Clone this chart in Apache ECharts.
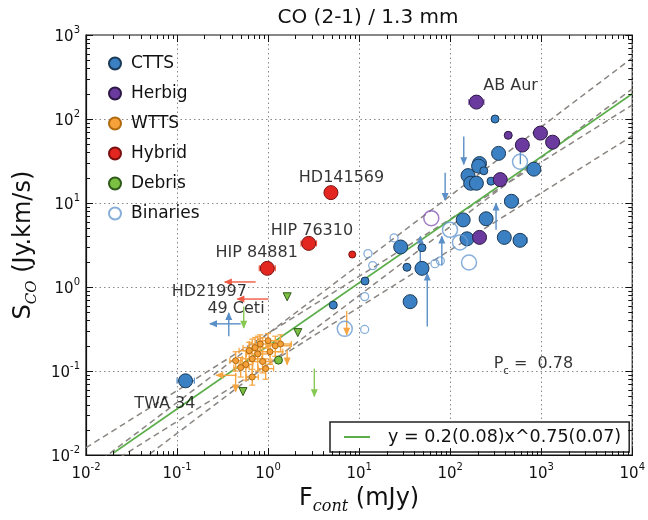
<!DOCTYPE html>
<html><head><meta charset="utf-8">
<script src="https://cdn.jsdelivr.net/npm/echarts/dist/echarts.min.js"></script>
<style>html,body{margin:0;padding:0;background:#fff}#c{width:648px;height:520px}</style>
</head><body><div id="c"></div>
<script>
// ---------- data ----------
const cttsLarge = [[0.124,0.0766],[28.6,3.0],[49,1.67],[36.3,0.67],[139,6.3],[248,6.5],[153,3.75],[393,3.9],[585,3.6],[471,10.5],[340,39],[210,29.5],[205,27.5],[830,25.3],[157,21.2],[168,17.2],[194,17.2]];
const cttsSmall = [[311,100],[281,18.2],[234,24.2],[33.5,1.72],[49,2.94],[5.2,0.61],[11.6,1.18]];
const herbigLarge = [[194,159],[980,68],[1333,53],[620,49],[355,19],[210,3.9]];
const herbigSmall = [[434,64]];
const hybridLarge = [[4.9,13.3],[2.79,3.31],[0.98,1.67]];
const hybridSmall = [[8.4,2.44]];
const debrisDots = [[1.3,0.135]];
const debrisTri = [[1.62,0.766],[2.12,0.287],[0.53,0.057]];
const binLarge = [[585,31],[99.5,4.8],[128,3.4],[161,1.96],[6.95,0.318]];
const binSmall = [[12.5,2.5],[14.1,1.8],[11.5,0.77],[11.5,0.313],[24.2,3.85],[68,1.9],[78,2.05]];
const binPurple = [[62,6.6]];
// WTTS: [x, y, xlo, xhi, ylo, yhi]
const wtts = [
  [0.44,0.133,0.38,0.52,0.10,0.17],[0.57,0.12,0.48,0.68,0.078,0.174],[0.67,0.14,0.52,0.85,0.085,0.24],
  [0.77,0.16,0.58,1.05,0.10,0.26],[0.87,0.13,0.68,1.1,0.095,0.25],[1.0,0.23,0.80,1.35,0.17,0.28],
  [0.94,0.107,0.78,1.15,0.08,0.14],[1.2,0.2,0.95,1.75,0.15,0.26],[1.37,0.21,1.05,1.8,0.17,0.27],
  [0.62,0.175,0.48,0.82,0.13,0.22],[0.72,0.19,0.53,1.0,0.14,0.25],[0.82,0.21,0.62,1.25,0.16,0.27],
  [0.67,0.085,0.58,0.78,0.068,0.105],[1.05,0.17,0.82,1.45,0.12,0.21],[0.5,0.11,0.42,0.62,0.085,0.145]
];
// limits / error segments: [x1, y1, x2, y2, arrowAtEnd]
const wttsLimits = [[0.45,0.089,0.27,0.089,1],[0.44,0.095,0.44,0.057,1],[1.62,0.18,1.62,0.12,1],[7.3,0.52,7.3,0.27,1]];
const cttsBars = [
  [0.10,0.0766,0.155,0.0766,0],[400,10.5,560,10.5,0],[500,3.6,700,3.6,0],[720,25.3,960,25.3,0],
  [141,62,141,29,1],[88,23,88,10.9,1],[319,4.8,319,9.9,1],[81,1.8,81,4.0,1],[56,0.34,56,1.45,1],
  [47,1.9,47,4.0,1],[590,29,590,58,1],[0.50,0.365,0.23,0.365,1],[0.37,0.26,0.37,0.49,1]
];
const herbigBars = [[160,159,235,159,0],[1150,53,1500,53,0]];
const hybridBars = [[4.4,13.3,5.5,13.3,0],[2.3,3.31,3.4,3.31,0],[0.8,1.67,1.2,1.67,0],[0.73,1.15,0.335,1.15,1],[1.01,0.72,0.46,0.72,1]];
const debrisBars = [[3.22,0.107,3.22,0.05,1],[0.54,0.585,0.54,0.327,1]];
// fit line and band lines (end points)
const fitName = 'y = 0.2(0.08)x^0.75(0.07)';
const fitLine = [[0.02,0.0106],[10000,200]];
const bandLines = [
  [[0.01,0.01224],[10000,147]],
  [[0.01,0.0064],[10000,533]],
  [[0.01,0.00275],[10000,229]],
  [[0.01,0.00525],[10000,63]]
];
const annotLabels = ['AB Aur','HD141569','HIP 76310','HIP 84881','HD21997','49 Ceti','TWA 34'];
const annotAt = [[460,247],[6.4,20.2],[3.03,4.73],[0.75,2.55],[0.226,0.869],[0.444,0.551],[0.0736,0.0405]];
const pcAt = [820,0.115];
const legendNames = ['CTTS','Herbig','WTTS','Hybrid','Debris','Binaries'];
const xMin = 0.01, xMax = 10000, yMin = 0.01, yMax = 1000;

// ---------- styles ----------
const FONT = 'DejaVu Sans';
const C = {
  ctts:'#3a80c2', cttsE:'#1b3a57', cttsBar:'#5b8fc7',
  herb:'#6b3a9e', herbE:'#2c1845', herbBar:'#9b6bc4',
  wtts:'#f7a13a', wttsE:'#b06a10', wttsBar:'#f6a540',
  hyb:'#e3261f', hybE:'#7a1010', hybBar:'#ef5a45',
  deb:'#7bc043', debE:'#2e5a1a', debBar:'#86c850',
  bin:'#6a9bd0', fit:'#5cae4a', band:'#8a8580'
};

function barRender(color, caps){
  return function(params, api){
    const p1 = api.coord([api.value(0), api.value(1)]);
    const p2 = api.coord([api.value(2), api.value(3)]);
    const arrow = api.value(4);
    const ch = [{type:'line', shape:{x1:p1[0],y1:p1[1],x2:p2[0],y2:p2[1]}, style:{stroke:color, lineWidth:1.4}}];
    const dx=p2[0]-p1[0], dy=p2[1]-p1[1], L=Math.hypot(dx,dy)||1, ux=dx/L, uy=dy/L;
    if (arrow) {
      const hl=7, hw=3.5, bx=p2[0]-ux*hl, by=p2[1]-uy*hl;
      ch.push({type:'polygon', shape:{points:[[p2[0]+ux*1,p2[1]+uy*1],[bx-uy*hw,by+ux*hw],[bx+uy*hw,by-ux*hw]]}, style:{fill:color}});
    } else if (caps) {
      const cw=3;
      [p1,p2].forEach(p=>ch.push({type:'line', shape:{x1:p[0]-uy*cw,y1:p[1]+ux*cw,x2:p[0]+uy*cw,y2:p[1]-ux*cw}, style:{stroke:color, lineWidth:1.2}}));
    }
    return {type:'group', children: ch};
  };
}
function barSeries(data, color, caps){
  return {type:'custom', data:data, renderItem:barRender(color, caps), encode:{x:[0,2], y:[1,3]}, z:3, silent:true, clip:true};
}

const wttsSegs = [];
wtts.forEach(r => { wttsSegs.push([r[2],r[1],r[3],r[1],0]); wttsSegs.push([r[0],r[4],r[0],r[5],0]); });
wttsLimits.forEach(s => wttsSegs.push(s));

function tickRender(params, api){
  const cs = params.coordSys; const ch = [];
  const bottom = cs.y + cs.height, top = cs.y, left = cs.x, right = cs.x + cs.width;
  const st = {stroke:'#111', lineWidth:1};
  for (let k=-2; k<=4; k++) for (let m=1; m<=9; m++) {
    const v = m*Math.pow(10,k); if (v > xMax*1.0001) break;
    const px = Math.round(api.coord([v, 1])[0]) + 0.5; const len = m===1?7:4;
    ch.push({type:'line', shape:{x1:px,y1:bottom,x2:px,y2:bottom-len}, style:st});
    ch.push({type:'line', shape:{x1:px,y1:top,x2:px,y2:top+len}, style:st});
  }
  for (let k=-2; k<=3; k++) for (let m=1; m<=9; m++) {
    const v = m*Math.pow(10,k); if (v > yMax*1.0001) break;
    const py = Math.round(api.coord([1, v])[1]) + 0.5; const len = m===1?7:4;
    ch.push({type:'line', shape:{x1:left,y1:py,x2:left+len,y2:py}, style:st});
    ch.push({type:'line', shape:{x1:right,y1:py,x2:right-len,y2:py}, style:st});
  }
  return {type:'group', children:ch};
}

function powLabel(v){
  const e = Math.round(Math.log10(v));
  return '{b|10}{s|' + e + '}';
}
const powRich = {
  b:{fontSize:15, fontFamily:FONT, color:'#111', lineHeight:20, verticalAlign:'bottom'},
  s:{fontSize:10, fontFamily:FONT, color:'#111', lineHeight:10, verticalAlign:'top'}
};

function scat(name, data, size, fill, edge, extra){
  return Object.assign({type:'scatter', name:name, data:data, symbolSize:size,
    itemStyle:{color:fill, borderColor:edge, borderWidth:1, opacity:1}, z:4, silent:true}, extra||{});
}

const series = [];
bandLines.forEach(d => series.push({type:'line', data:d, symbol:'none', silent:true, z:2,
  lineStyle:{color:C.band, width:1.5, type:[6,4]}}));
series.push({type:'line', name:fitName, data:fitLine, symbol:'none', silent:true, z:2,
  itemStyle:{color:C.fit}, lineStyle:{color:C.fit, width:1.6}});
series.push(barSeries(wttsSegs, C.wttsBar, true));
series.push(barSeries(cttsBars, C.cttsBar, true));
series.push(barSeries(herbigBars, C.herbBar, true));
series.push(barSeries(hybridBars, C.hybBar, true));
series.push(barSeries(debrisBars, C.debBar, true));
series.push(scat('CTTS', cttsLarge, 14, C.ctts, C.cttsE));
series.push(scat('CTTS', cttsSmall, 8, C.ctts, C.cttsE));
series.push(scat('Herbig', herbigLarge, 14, C.herb, C.herbE));
series.push(scat('Herbig', herbigSmall, 8, C.herb, C.herbE));
series.push(scat('WTTS', wtts.map(r=>[r[0],r[1]]), 6, C.wtts, C.wttsE));
series.push(scat('Hybrid', hybridLarge, 14, C.hyb, C.hybE));
series.push(scat('Hybrid', hybridSmall, 7, C.hyb, C.hybE));
series.push(scat('Debris', debrisDots, 8, C.deb, C.debE));
series.push(scat('Debris', debrisTri, 8, C.deb, C.debE, {symbol:'triangle', symbolRotate:180}));
series.push(scat('Binaries', binLarge, 15, 'rgba(255,255,255,0)', C.bin, {itemStyle:{color:'rgba(255,255,255,0)', borderColor:C.bin, borderWidth:1.5}}));
series.push(scat('Binaries', binSmall, 8, 'rgba(255,255,255,0)', C.bin, {itemStyle:{color:'rgba(255,255,255,0)', borderColor:C.bin, borderWidth:1.3}}));
series.push(scat('_binP', binPurple, 15, 'rgba(255,255,255,0)', '#8a5cb8', {itemStyle:{color:'rgba(255,255,255,0)', borderColor:'#8a5cb8', borderWidth:1.5}}));
series.push({type:'scatter', data:annotAt.map((p,i)=>({value:p, name:annotLabels[i]})), symbolSize:0, silent:true, z:5,
  itemStyle:{color:'rgba(0,0,0,0)'},
  label:{show:true, position:'inside', formatter:'{b}', fontSize:16, fontFamily:FONT, color:'#000'}});
series.push({type:'scatter', data:[pcAt], symbolSize:0, silent:true, z:5, itemStyle:{color:'rgba(0,0,0,0)'},
  label:{show:true, position:'inside', formatter:'{p|P}{c|c}{p| =  0.78}',
    rich:{p:{fontSize:16, fontFamily:FONT, color:'#000', lineHeight:20, verticalAlign:'top'},
          c:{fontSize:10, fontFamily:FONT, color:'#000', lineHeight:10, verticalAlign:'bottom'}}}});
series.push({type:'custom', data:[[1,1]], renderItem:tickRender, clip:false, silent:true, z:6});

const chart = echarts.init(document.getElementById('c'), null, {renderer:'canvas'});
chart.setOption({
  animation:false,
  backgroundColor:'#fff',
  title:{text:'CO (2-1) / 1.3 mm', left:363, top:3, textAlign:'center',
    textStyle:{fontSize:20, fontWeight:'normal', color:'#111', fontFamily:FONT}},
  grid:{left:86, top:35, width:554, height:428, show:true, borderColor:'#111', borderWidth:1.2, backgroundColor:'#fff', containLabel:false},
  legend:[{
    data:legendNames, orient:'vertical', left:103, top:50, icon:'circle', itemWidth:12, itemHeight:12, itemGap:13,
    selectedMode:false, formatter:n=>'{t|'+n+'}',
    textStyle:{fontSize:17, color:'#111', fontFamily:FONT, rich:{t:{fontSize:17, fontFamily:FONT, color:'#111', padding:[0,0,0,5]}}}
  },{
    data:[fitName], left:330, top:422, icon:'rect', itemWidth:26, itemHeight:2, selectedMode:false,
    borderColor:'#222', borderWidth:1.5, borderRadius:0, padding:[6,8,6,14], backgroundColor:'#fff',
    formatter:n=>'{t|'+n+'}',
    textStyle:{fontSize:17.5, color:'#111', fontFamily:FONT, rich:{t:{fontSize:17.5, fontFamily:FONT, color:'#111', padding:[0,0,0,13]}}}
  }],
  xAxis:{type:'log', logBase:10, min:xMin, max:xMax,
    axisLine:{show:true, lineStyle:{color:'#111', width:1.2}}, axisTick:{show:false},
    splitLine:{show:true, lineStyle:{color:'#888', type:[1.5,3], width:1}},
    axisLabel:{formatter:powLabel, rich:powRich, margin:7, color:'#111'},
    name:'{s|F}{sub|cont}{s| (mJy)}', nameLocation:'middle', nameGap:24,
    nameTextStyle:{rich:{s:{fontSize:24, fontFamily:FONT, color:'#111', lineHeight:28, verticalAlign:'top'},
      sub:{fontSize:16, fontFamily:'DejaVu Serif', fontStyle:'italic', color:'#111', lineHeight:16, verticalAlign:'bottom'}}}
  },
  yAxis:{type:'log', logBase:10, min:yMin, max:yMax,
    axisLine:{show:true, lineStyle:{color:'#111', width:1.2}}, axisTick:{show:false},
    splitLine:{show:true, lineStyle:{color:'#888', type:[1.5,3], width:1}},
    axisLabel:{formatter:powLabel, rich:powRich, margin:6, color:'#111'},
    name:'{s|S}{sub|CO}{s| (Jy.km/s)}', nameLocation:'middle', nameGap:40,
    nameTextStyle:{rich:{s:{fontSize:24, fontFamily:FONT, color:'#111', lineHeight:28, verticalAlign:'top'},
      sub:{fontSize:15, fontFamily:'DejaVu Serif', fontStyle:'italic', color:'#111', lineHeight:15, verticalAlign:'bottom'}}}
  },
  series:series
});
</script>
</body></html>
